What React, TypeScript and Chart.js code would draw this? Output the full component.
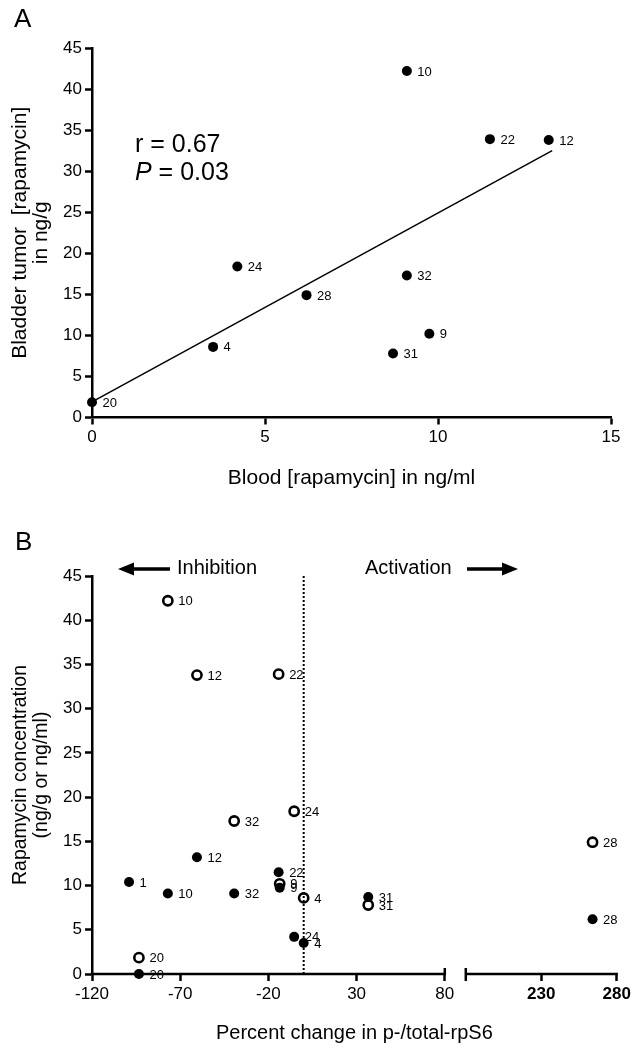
import React, { useEffect, useRef } from 'react';
import { Chart, registerables, LinearScale } from 'chart.js';

Chart.register(...registerables);

// ---------- DATA ----------
const patientIds = ['10', '12', '22', '24', '32', '28', '9', '4', '31', '20', '1'];
const bloodConc = [9.1, 13.2, 11.5, 4.2, 9.1, 6.2, 9.75, 3.5, 8.7, 0, 10.4];
const tumorConc: (number | null)[] = [42.2, 33.8, 33.9, 18.4, 17.3, 14.9, 10.2, 8.6, 7.8, 1.85, null];
const rpS6Change = [-77, -60.5, -14.2, -5.4, -39.4, 264, -13.6, 0, 36.6, -93.4, -99];

const fitLineX = [0, 13.3];
const fitLineY = [1.9, 32.5];
const rText = '0.67';
const pText = '0.03';

const yTicksA = [0, 5, 10, 15, 20, 25, 30, 35, 40, 45];
const xTicksA = [0, 5, 10, 15];
const yTicksB = [0, 5, 10, 15, 20, 25, 30, 35, 40, 45];
const xTicksB = [-120, -70, -20, 30, 80, 230, 280];
const xSegmentsB = [[-120, 80], [180, 280]];
const dividerX = [0, 0];
const dividerY = [0, 45];

// ---------- STYLE ----------
const FONT = '"Liberation Sans", Arial, Helvetica, sans-serif';
const segFractions = [[0, 0.6724], [0.7124, 1]];

class BrokenLinearScale extends LinearScale {
  static id = 'brokenLinear';
  getPixelForValue(value: any) {
    if (value === null || value === undefined || isNaN(value)) return NaN;
    const v = +value;
    const split = (xSegmentsB[0][1] + xSegmentsB[1][0]) / 2;
    const k = v <= split ? 0 : 1;
    const [s0, s1] = xSegmentsB[k];
    const [f0, f1] = segFractions[k];
    const dec = f0 + ((v - s0) / (s1 - s0)) * (f1 - f0);
    return (this as any).getPixelForDecimal(dec);
  }
  getValueForPixel(pixel: number) {
    const dec = (this as any).getDecimalForPixel(pixel);
    const k = dec <= (segFractions[0][1] + segFractions[1][0]) / 2 ? 0 : 1;
    const [s0, s1] = xSegmentsB[k];
    const [f0, f1] = segFractions[k];
    return s0 + ((dec - f0) / (f1 - f0)) * (s1 - s0);
  }
}
Chart.register(BrokenLinearScale as any);

Chart.defaults.font.family = FONT;
Chart.defaults.color = '#000';

const pointLabelPlugin = {
  id: 'pointLabels',
  afterDatasetsDraw(chart: any) {
    const ctx = chart.ctx;
    ctx.save();
    ctx.font = `13px ${FONT}`;
    ctx.fillStyle = '#000';
    ctx.textBaseline = 'middle';
    ctx.textAlign = 'left';
    chart.data.datasets.forEach((ds: any, i: number) => {
      const labels = ds.pointLabels;
      if (!labels) return;
      const meta = chart.getDatasetMeta(i);
      meta.data.forEach((el: any, j: number) => {
        if (labels[j]) ctx.fillText(labels[j], el.x + 10.5, el.y + 1);
      });
    });
    ctx.restore();
  },
};

const annotA = {
  id: 'annotA',
  afterDraw(chart: any) {
    const ctx = chart.ctx;
    ctx.save();
    ctx.fillStyle = '#000';
    ctx.textBaseline = 'alphabetic';
    ctx.textAlign = 'left';
    ctx.font = `26px ${FONT}`;
    ctx.fillText('A', 14, 27);
    ctx.font = `25px ${FONT}`;
    ctx.fillText(`r = ${rText}`, 135, 152);
    ctx.font = `italic 25px ${FONT}`;
    ctx.fillText('P', 135, 180);
    const w = ctx.measureText('P').width;
    ctx.font = `25px ${FONT}`;
    ctx.fillText(` = ${pText}`, 135 + w, 180);
    ctx.restore();
  },
};

const annotB = {
  id: 'annotB',
  afterDraw(chart: any) {
    const ctx = chart.ctx;
    const { chartArea } = chart;
    const xs = chart.scales.x;
    const yb = chartArea.bottom;
    ctx.save();
    ctx.fillStyle = '#000';
    ctx.strokeStyle = '#000';
    // panel letter
    ctx.font = `26px ${FONT}`;
    ctx.textBaseline = 'alphabetic';
    ctx.textAlign = 'left';
    ctx.fillText('B', 15, 25);
    // inhibition / activation
    ctx.font = `20px ${FONT}`;
    ctx.textBaseline = 'middle';
    ctx.fillText('Inhibition', 177, 43);
    ctx.fillText('Activation', 365, 43);
    const ay = 44;
    ctx.lineWidth = 3.5;
    ctx.beginPath();
    ctx.moveTo(170, ay); ctx.lineTo(130, ay);
    ctx.moveTo(467, ay); ctx.lineTo(506, ay);
    ctx.stroke();
    ctx.beginPath();
    ctx.moveTo(118, ay); ctx.lineTo(134, ay - 6.5); ctx.lineTo(134, ay + 6.5); ctx.closePath();
    ctx.moveTo(518, ay); ctx.lineTo(502, ay - 6.5); ctx.lineTo(502, ay + 6.5); ctx.closePath();
    ctx.fill();
    // broken x axis
    ctx.lineWidth = 2.5;
    ctx.beginPath();
    xSegmentsB.forEach(([a, b], k) => {
      ctx.moveTo(xs.getPixelForValue(a) - (k === 0 ? 1.25 : 0), yb);
      ctx.lineTo(xs.getPixelForValue(b) + 1.25, yb);
    });
    const e0 = xs.getPixelForValue(xSegmentsB[0][1]);
    const s1 = xs.getPixelForValue(xSegmentsB[1][0]);
    ctx.moveTo(e0, yb - 6); ctx.lineTo(e0, yb + 1);
    ctx.moveTo(s1, yb - 6); ctx.lineTo(s1, yb + 7);
    ctx.stroke();
    ctx.restore();
  },
};

function tickOpts(size = 17) {
  return { color: '#000', font: { size }, padding: 3 };
}
const gridOpts = {
  display: true,
  drawOnChartArea: false,
  drawTicks: true,
  tickLength: 7,
  tickWidth: 2.5,
  tickColor: '#000',
};
const borderOpts = { display: true, color: '#000', width: 2.5 };

function ChartA() {
  const ref = useRef<HTMLCanvasElement>(null);
  useEffect(() => {
    const idx = patientIds.map((_, i) => i).filter((i) => tumorConc[i] !== null);
    const chart = new Chart(ref.current!, {
      type: 'scatter',
      data: {
        datasets: [
          {
            type: 'scatter',
            data: idx.map((i) => ({ x: bloodConc[i], y: tumorConc[i] as number })),
            pointRadius: 5,
            pointBackgroundColor: '#000',
            pointBorderColor: '#000',
            pointBorderWidth: 0,
            clip: false,
            pointLabels: idx.map((i) => patientIds[i]),
          } as any,
          {
            type: 'line',
            data: fitLineX.map((x, i) => ({ x, y: fitLineY[i] })),
            borderColor: '#000',
            borderWidth: 1.5,
            pointRadius: 0,
            fill: false,
            tension: 0,
            clip: false,
          } as any,
        ],
      },
      options: {
        animation: false,
        responsive: false,
        devicePixelRatio: 1,
        layout: { padding: { left: 0, top: 48, right: 28, bottom: 0 } },
        plugins: { legend: { display: false }, tooltip: { enabled: false } },
        scales: {
          x: {
            type: 'linear',
            position: 'bottom',
            min: 0,
            max: 15,
            afterBuildTicks: (s: any) => { s.ticks = xTicksA.map((v) => ({ value: v })); },
            ticks: { ...tickOpts(), callback: (v: any) => String(v) },
            grid: gridOpts,
            border: borderOpts,
            title: {
              display: true,
              text: 'Blood [rapamycin] in ng/ml',
              font: { size: 21 },
              color: '#000',
              padding: { top: 0, bottom: 34.5 },
            },
            afterFit: (s: any) => { s.height = 107.5; },
          },
          y: {
            type: 'linear',
            min: 0,
            max: 45,
            afterBuildTicks: (s: any) => { s.ticks = yTicksA.map((v) => ({ value: v })); },
            ticks: { ...tickOpts(), callback: (v: any) => String(v) },
            grid: gridOpts,
            border: borderOpts,
            title: {
              display: true,
              text: ['Bladder tumor  [rapamycin]', 'in ng/g'],
              font: { size: 21, lineHeight: 1.0 },
              color: '#000',
              padding: { top: 10, bottom: 0 },
            },
            afterFit: (s: any) => { s.width = 92; },
          },
        },
      },
      plugins: [pointLabelPlugin, annotA],
    } as any);
    return () => chart.destroy();
  }, []);
  return <canvas ref={ref} width={639} height={525} style={{ display: 'block', width: 639, height: 525 }} />;
}

function ChartB() {
  const ref = useRef<HTMLCanvasElement>(null);
  useEffect(() => {
    const allIdx = patientIds.map((_, i) => i);
    const tIdx = allIdx.filter((i) => tumorConc[i] !== null);
    const chart = new Chart(ref.current!, {
      type: 'scatter',
      data: {
        datasets: [
          {
            type: 'scatter',
            label: 'Blood',
            data: allIdx.map((i) => ({ x: rpS6Change[i], y: bloodConc[i] })),
            pointRadius: 5,
            pointBackgroundColor: '#000',
            pointBorderColor: '#000',
            pointBorderWidth: 0,
            clip: false,
            pointLabels: allIdx.map((i) => patientIds[i]),
          } as any,
          {
            type: 'scatter',
            label: 'Bladder tumor',
            data: tIdx.map((i) => ({ x: rpS6Change[i], y: tumorConc[i] as number })),
            pointRadius: 4.6,
            pointBackgroundColor: 'rgba(255,255,255,0)',
            pointBorderColor: '#000',
            pointBorderWidth: 2.6,
            clip: false,
            pointLabels: tIdx.map((i) => patientIds[i]),
          } as any,
          {
            type: 'line',
            data: dividerX.map((x, i) => ({ x, y: dividerY[i] })),
            borderColor: '#000',
            borderWidth: 2,
            borderDash: [2, 2],
            pointRadius: 0,
            fill: false,
            clip: false,
          } as any,
        ],
      },
      options: {
        animation: false,
        responsive: false,
        devicePixelRatio: 1,
        layout: { padding: { left: 0, top: 51, right: 22.3, bottom: 0 } },
        plugins: { legend: { display: false }, tooltip: { enabled: false } },
        scales: {
          x: {
            type: 'brokenLinear',
            position: 'bottom',
            min: -120,
            max: 280,
            afterBuildTicks: (s: any) => { s.ticks = xTicksB.map((v) => ({ value: v })); },
            ticks: {
              color: '#000',
              padding: 3,
              font: (c: any) => ({ size: 17, weight: c.tick && c.tick.value > 100 ? 'bold' : 'normal' }),
              callback: (v: any) => String(v),
            },
            grid: gridOpts,
            border: { display: false },
            title: {
              display: true,
              text: 'Percent change in p-/total-rpS6',
              font: { size: 20 },
              color: '#000',
              padding: { top: 0, bottom: 5 },
            },
            afterFit: (s: any) => { s.height = 76; },
          },
          y: {
            type: 'linear',
            min: 0,
            max: 45,
            afterBuildTicks: (s: any) => { s.ticks = yTicksB.map((v) => ({ value: v })); },
            ticks: { ...tickOpts(), callback: (v: any) => String(v) },
            grid: gridOpts,
            border: borderOpts,
            title: {
              display: true,
              text: ['Rapamycin concentration', '(ng/g or ng/ml)'],
              font: { size: 19.5, lineHeight: 1.08 },
              color: '#000',
              padding: { top: 10.5, bottom: 0 },
            },
            afterFit: (s: any) => { s.width = 92; },
          },
        },
      },
      plugins: [pointLabelPlugin, annotB],
    } as any);
    return () => chart.destroy();
  }, []);
  return <canvas ref={ref} width={639} height={525} style={{ display: 'block', width: 639, height: 525 }} />;
}

export default function App() {
  return (
    <div style={{ position: 'absolute', left: 0, top: 0, width: 639, height: 1050, background: '#fff' }}>
      <ChartA />
      <ChartB />
    </div>
  );
}
